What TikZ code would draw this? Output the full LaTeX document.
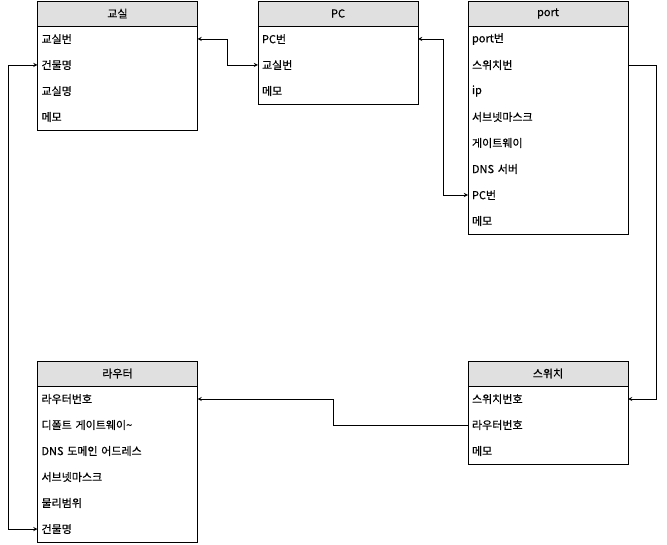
\documentclass[tikz,border=0pt]{standalone}
\usepackage{fontspec}
\setmainfont{Noto Sans CJK KR}[FakeBold=0.5]
\usepackage{tikz}
\usetikzlibrary{shapes,arrows,positioning}
\definecolor{headgray}{HTML}{E0E0E0}

\begin{document}
\begin{tikzpicture}[x=1pt, y=-1pt, line width=0.9pt, >=stealth, font=\fontsize{11}{13}\selectfont,
	head/.style={draw, fill=headgray, minimum width=160pt, minimum height=25pt, inner sep=0pt, outer sep=0pt},
	field/.style={text width=152pt, align=left, inner xsep=4pt, inner ysep=0pt, outer sep=0pt, minimum height=26pt, below=0pt of #1}]
				\useasboundingbox (0,0) rectangle (667,545);
				% 교실
				\node [head] (room) at (117.5,13.5) {교실};
				\node [field=room] (room1) {교실번};
				\node [field=room1] (room2) {건물명};
				\node [field=room2] (room3) {교실명};
				\node [field=room3] (room4) {메모};
				\draw (room.north west) rectangle (room4.south east);
				% PC
				\node [head] (pc) at (338,13.5) {PC};
				\node [field=pc] (pc1) {PC번};
				\node [field=pc1] (pc2) {교실번};
				\node [field=pc2] (pc3) {메모};
				\draw (pc.north west) rectangle (pc3.south east);
				% port
				\node [head] (port) at (548,13.5) {port};
				\node [field=port] (port1) {port번};
				\node [field=port1] (port2) {스위치번};
				\node [field=port2] (port3) {ip};
				\node [field=port3] (port4) {서브넷마스크};
				\node [field=port4] (port5) {게이트웨이};
				\node [field=port5] (port6) {DNS 서버};
				\node [field=port6] (port7) {PC번};
				\node [field=port7] (port8) {메모};
				\draw (port.north west) rectangle (port8.south east);
				% 라우터
				\node [head] (router) at (117.5,373.5) {라우터};
				\node [field=router] (router1) {라우터번호};
				\node [field=router1] (router2) {디폴트 게이트웨이\textasciitilde};
				\node [field=router2] (router3) {DNS 도메인 어드레스};
				\node [field=router3] (router4) {서브넷마스크};
				\node [field=router4] (router5) {물리범위};
				\node [field=router5] (router6) {건물명};
				\draw (router.north west) rectangle (router6.south east);
				% 스위치
				\node [head] (switch) at (548,373.5) {스위치};
				\node [field=switch] (switch1) {스위치번호};
				\node [field=switch1] (switch2) {라우터번호};
				\node [field=switch2] (switch3) {메모};
				\draw (switch.north west) rectangle (switch3.south east);

				\draw [<->] (room1.east) -- ++(30,0) |- (pc2.west);
				\draw [<->] (pc1.east) -- ++(25,0) |- (port7.west);
				\draw [->] (port2.east) -- ++(28,0) |- (switch1.east);
				\draw [->] (switch2.west) -- ++(-135,0) |- (router1.east);
				\draw [<->] (room2.west) -- ++(-29,0) |- (router6.west);
\end{tikzpicture}
\end{document}
